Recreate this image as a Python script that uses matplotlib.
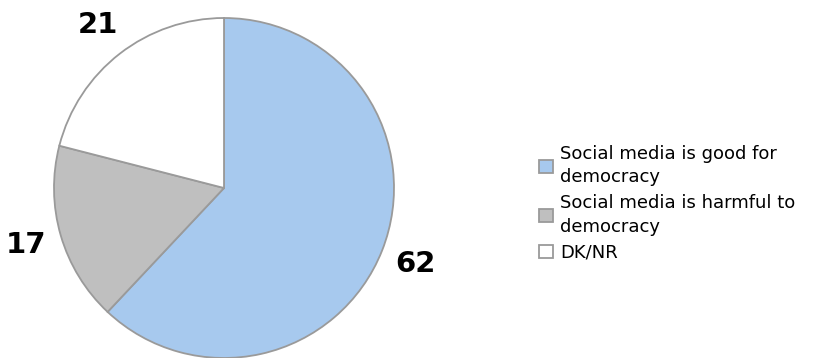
import matplotlib
matplotlib.use("Agg")
from matplotlib import pyplot as plt

# survey answers (percent)
labels = ["Social media is good for\ndemocracy",
          "Social media is harmful to\ndemocracy",
          "DK/NR"]
values = [62, 17, 21]
colors = ["#A7C9EE", "#BFBFBF", "#FFFFFF"]

fig = plt.figure(figsize=(8.14, 3.58), dpi=100)
ax = fig.add_axes([0, 0, 1, 1])

wedges, texts, autotexts = ax.pie(
    values, colors=colors, startangle=90, counterclock=False,
    center=(224, 170), radius=170, frame=True,
    autopct=lambda p: "%d" % round(p), pctdistance=1.21,
    wedgeprops=dict(edgecolor="#9A9A9A", linewidth=1.3),
    textprops=dict(fontsize=21, fontweight="bold", color="black"))
ax.set_xlim(0, 814)
ax.set_ylim(0, 358)
ax.set_aspect("equal")
ax.axis("off")

leg = fig.legend(wedges, labels, loc="upper left", bbox_to_anchor=(539 / 814, 1 - 145 / 358),
                 frameon=False, fontsize=13, handlelength=0.75, handleheight=0.75,
                 handletextpad=0.4, labelspacing=0.45, borderaxespad=0, borderpad=0)
for t in leg.get_texts():
    t.set_linespacing(1.38)
for p in leg.get_patches():
    p.set_edgecolor("#9A9A9A")

fig.savefig("out.png", dpi=100)
